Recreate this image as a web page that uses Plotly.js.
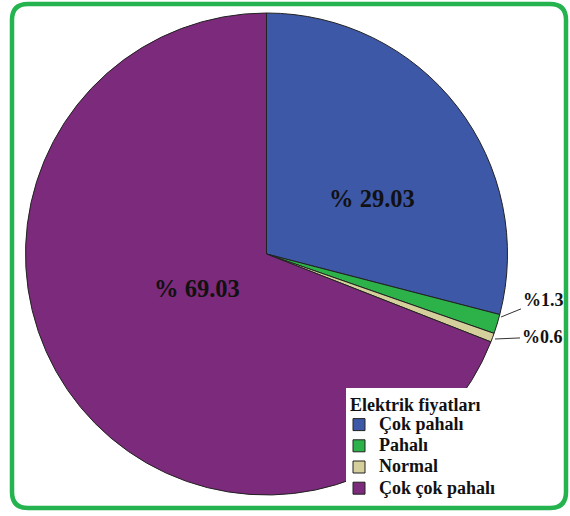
<!DOCTYPE html>
<html>
<head>
<meta charset="utf-8">
<script src="https://cdn.plot.ly/plotly-3.0.1.min.js"></script>
<style>html,body{margin:0;padding:0;background:#fff}#chart{width:570px;height:516px}</style>
</head>
<body>
<div id="chart"></div>
<script>
const categories = ['Çok pahalı', 'Pahalı', 'Normal', 'Çok çok pahalı'];
const values = [29.03, 1.3, 0.6, 69.03];
const sliceColors = ['#3E58A8', '#2DB24A', '#D4CF9B', '#7C2A7B'];
const legendTitle = 'Elektrik fiyatları';

const W = 570, H = 516;
const px = x => x / W;
const py = y => 1 - y / H;

// pie placement
const cx = 266.5, cy = 254, r = 241;

const serif = 'Liberation Serif';

function roundRect(x0, y0, x1, y1, rad) {
  const X = px, Y = py;
  return 'M' + X(x0 + rad) + ',' + Y(y0) +
    ' L' + X(x1 - rad) + ',' + Y(y0) +
    ' Q' + X(x1) + ',' + Y(y0) + ' ' + X(x1) + ',' + Y(y0 + rad) +
    ' L' + X(x1) + ',' + Y(y1 - rad) +
    ' Q' + X(x1) + ',' + Y(y1) + ' ' + X(x1 - rad) + ',' + Y(y1) +
    ' L' + X(x0 + rad) + ',' + Y(y1) +
    ' Q' + X(x0) + ',' + Y(y1) + ' ' + X(x0) + ',' + Y(y1 - rad) +
    ' L' + X(x0) + ',' + Y(y0 + rad) +
    ' Q' + X(x0) + ',' + Y(y0) + ' ' + X(x0 + rad) + ',' + Y(y0) + ' Z';
}

const trace = {
  type: 'pie',
  labels: categories.map(c => '<span style="font-size:18px;font-family:\'Liberation Serif\'">' + c + '</span>'),
  values: values,
  sort: false,
  direction: 'clockwise',
  rotation: 0,
  textinfo: 'none',
  hoverinfo: 'label+value',
  marker: { colors: sliceColors, line: { color: '#222', width: 1 } },
  domain: { x: [px(cx - r), px(cx + r)], y: [py(cy + r), py(cy - r)] }
};

const fmt = (v, space) => '%' + (space ? ' ' : '') + v.toFixed(v >= 10 ? 2 : 1);
const bigFont = { family: serif, size: 24.5, color: '#111', weight: 'bold' };
const smallFont = { family: serif, size: 18, color: '#111', weight: 'bold' };

const annotations = [
  { x: px(372), y: py(198), text: fmt(values[0], true), showarrow: false, font: bigFont },
  { x: px(152), y: py(288), text: fmt(values[3], true), showarrow: false, font: bigFont },
  { x: px(501), y: py(317), text: fmt(values[1], false),
    showarrow: true, arrowhead: 0, arrowwidth: 1, arrowcolor: '#333', ax: 42, ay: -17, font: smallFont },
  { x: px(495), y: py(339), text: fmt(values[2], false),
    showarrow: true, arrowhead: 0, arrowwidth: 1, arrowcolor: '#333', ax: 47, ay: -2, font: smallFont },
  { x: px(348), y: py(405), xanchor: 'left', yanchor: 'middle', text: legendTitle, showarrow: false,
    font: { family: serif, size: 18, color: '#111', weight: 'bold' } }
];
annotations.forEach(a => { a.xref = 'paper'; a.yref = 'paper'; });

const layout = {
  width: W, height: H,
  margin: { l: 0, r: 0, t: 0, b: 0, autoexpand: false },
  paper_bgcolor: '#fff',
  showlegend: true,
  legend: {
    x: px(339), y: py(409), xanchor: 'left', yanchor: 'top',
    bgcolor: 'rgba(0,0,0,0)', borderwidth: 0,
    font: { family: serif, size: 14, color: '#111', weight: 'bold' },
    itemwidth: 30,
    tracegroupgap: 0
  },
  annotations: annotations,
  shapes: [
    { type: 'rect', xref: 'paper', yref: 'paper', layer: 'above',
      x0: px(346), x1: px(510), y0: py(502), y1: py(388),
      line: { width: 0 }, fillcolor: '#fff' },
    { type: 'path', xref: 'paper', yref: 'paper', path: roundRect(12, 4, 566, 508, 16),
      line: { color: '#25B34F', width: 4.5 }, fillcolor: 'rgba(0,0,0,0)' }
  ]
};

Plotly.newPlot('chart', [trace], layout, { staticPlot: true, displayModeBar: false });
</script>
</body>
</html>
